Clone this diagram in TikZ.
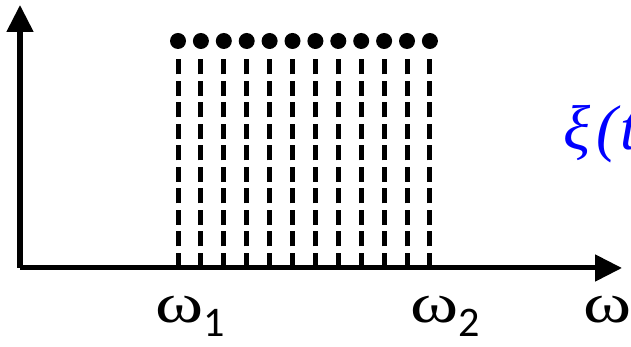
\documentclass[tikz,border=0pt]{standalone}
\usepackage{fontspec}
\setmainfont{Carlito}
\newfontfamily\greekserif{Liberation Serif}
\usetikzlibrary{arrows.meta}
\tikzset{
  axisline/.style={line width=0.1cm, -{Triangle[length=0.54cm, width=0.52cm]}},
  dashline/.style={line width=0.1cm, dash pattern=on 0.3cm off 0.13cm},
  freqdot/.style={circle, fill=black, inner sep=0pt, minimum size=0.32cm},
  freqlabel/.style={inner sep=0pt, anchor=base west, font=\greekserif\fontsize{32}{32}\selectfont}
}
\newcommand{\wideomega}{\scalebox{1.3}[1]{ω}}
\newcommand{\subdigit}[1]{\raisebox{-0.28cm}{\fontsize{24}{24}\selectfont\rmfamily #1}}
\begin{document}
\begin{tikzpicture}
\useasboundingbox (0,0) rectangle (12.62,6.94);
\clip (0,0) rectangle (12.62,6.94);
\coordinate (o) at (0.40,1.58);
\coordinate (xend) at (12.44,1.58);
\coordinate (yend) at (0.40,6.84);
\draw[axisline] (o) -- (xend);
\draw[axisline] (o) -- (yend);
% dots and dashed lines
\foreach \i in {0,...,11} {
  \node[freqdot] (d\i) at (3.56+0.458*\i,6.12) {};
  \coordinate (b\i) at (3.56+0.458*\i,1.58);
  \draw[dashline, shorten >=0.2cm] (b\i) -- (d\i.south);
}
\node[freqlabel] (w1) at (3.10,0.48) {\wideomega\subdigit{1}};
\node[freqlabel] (w2) at (8.20,0.48) {\wideomega\subdigit{2}};
\node[freqlabel] (w) at (11.66,0.48) {\wideomega};
\node[inner sep=0pt, anchor=base west, text=blue, font=\greekserif\itshape\fontsize{36}{36}\selectfont] (xi) at (11.26,3.94) {ξ\kern0.1em(\kern0.05em t)};
\end{tikzpicture}
\end{document}
